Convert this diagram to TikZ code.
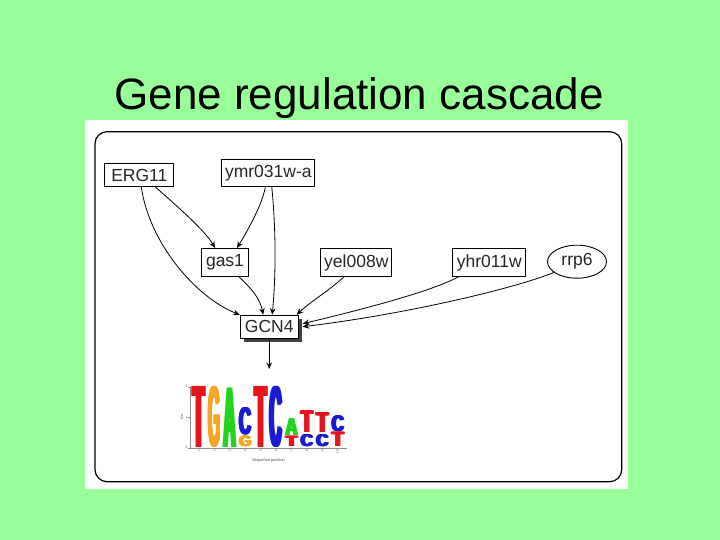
\documentclass[tikz,border=0pt]{standalone}
\usepackage{fontspec}
\setmainfont{Liberation Sans}
\usetikzlibrary{arrows.meta,shapes.geometric,shadows}
\definecolor{bggreen}{HTML}{99FF99}
\definecolor{lred}{HTML}{E8141C}
\definecolor{lorange}{HTML}{F5A623}
\definecolor{lgreen}{HTML}{22D41E}
\definecolor{lblue}{HTML}{1A1AD2}
% logo letter: x, ybottom, ytop, letter, colour, name  (fake-bold by stacking shifted copies)
\newcommand\lgl[6]{%
  \foreach \dd [count=\jj] in {0,0.5,1,1.5,2,2.5} {%
    \node[inner sep=0pt, anchor=south west, text=#5] (#6-\jj) at (#1+\dd,#2) {\resizebox*{12pt}{\dimexpr #2pt-#3pt\relax}{\bfseries #4}};%
  }%
}
\begin{document}
\begin{tikzpicture}[x=1pt,y=-1pt,
  gbox/.style={draw=black, line width=0.9pt, fill=white, inner sep=0pt, font=\fontsize{17.5}{20}\selectfont, text=black!85},
  edge/.style={line width=0.8pt, -{Stealth[length=6.5pt,width=5.5pt]}},
  tiny/.style={inner sep=0pt, font=\fontsize{3.2}{4}\selectfont, text=black!70},
]
\useasboundingbox (0,0) rectangle (720,540);
\fill[bggreen] (0,0) rectangle (720,540);
\node[font=\fontsize{44}{50}\selectfont, anchor=base, inner sep=0pt] (title) at (359,110) {Gene regulation cascade};
\fill[white] (85,120) rectangle (628,489);
\draw[line width=1.2pt, rounded corners=12pt] (95,131.7) rectangle (621.7,481.7);

% nodes
\node[gbox, minimum width=69pt, minimum height=23pt] (erg) at (139.3,175) {ERG11};
\node[gbox, minimum width=93pt, minimum height=27pt] (ymr) at (268.3,173.3) {ymr031w-a};
\draw[line width=1.6pt] (ymr.north west) -- (ymr.north east);
\node[gbox, minimum width=47pt, minimum height=28pt] (gas) at (225,262.5) {gas1};
\node[gbox, minimum width=71pt, minimum height=28pt] (yel) at (356.3,262.5) {yel008w};
\node[gbox, minimum width=73pt, minimum height=28pt] (yhr) at (489.3,262.5) {yhr011w};
\node[gbox, ellipse, minimum width=59pt, minimum height=33pt] (rrp) at (577,261.7) {rrp6};
\node[gbox, minimum width=58pt, minimum height=23pt, drop shadow={shadow xshift=4pt, shadow yshift=-4pt, fill=black!75, opacity=1}] (gcn) at (269.2,326.7) {GCN4};

% edges
\draw[edge] ([xshift=2pt]erg.south) .. controls (149,242) and (195,297) .. (gcn.north west);
\draw[edge] ([xshift=16pt]erg.south) .. controls (170,200) and (205,230) .. ([xshift=-10pt]gas.north);
\draw[edge] ([xshift=-3pt]ymr.south) .. controls (262,205) and (248,230) .. ([xshift=12pt]gas.north);
\draw[edge] ([xshift=3.5pt]ymr.south) .. controls (276,230) and (276,275) .. ([xshift=3pt]gcn.north);
\draw[edge] ([xshift=14pt]gas.south) .. controls (250,287) and (260,298) .. ([xshift=-6pt]gcn.north);
\draw[edge] ([xshift=-12.5pt]yel.south) .. controls (330,290) and (310,302) .. ([xshift=-2pt]gcn.north east);
\draw[edge] ([xshift=-31pt]yhr.south) .. controls (430,292) and (360,310) .. ([xshift=4pt,yshift=3pt]gcn.east);
\draw[edge] (rrp.205) .. controls (510,290) and (400,315) .. ([xshift=4pt]gcn.east);

\coordinate (motif) at (269.2,369);
\draw[edge] (gcn.south) -- (motif);

% sequence logo axes
\draw[black!45, line width=0.4pt] (190,386.7) -- (190,447.7) -- (347,447.7);
\foreach \yy/\lab [count=\k] in {447.7/0, 417.2/1, 386.7/2} {
  \draw[black!45, line width=0.4pt] (188,\yy) -- (190,\yy);
  \node[tiny, anchor=east] (yl\k) at (187.5,\yy) {\lab};
}
\node[tiny, rotate=90] (bits) at (182,417) {Bits};
\foreach \i in {1,...,10} {
  \draw[black!45, line width=0.4pt] ({191.7+15.4*(\i-1)+7.3},447.7) -- ++(0,1.2);
  \node[tiny, rotate=90, anchor=east] (xl\i) at ({191.7+15.4*(\i-1)+7.3},450) {\i};
}
\node[tiny, font=\fontsize{4}{5}\selectfont] (seqpos) at (268.5,460) {Sequence position};

% sequence logo letters
\lgl{191.7}{447.7}{386.7}{T}{lred}{l1}
\lgl{207.1}{447.7}{386.7}{G}{lorange}{l2}
\lgl{222.5}{447.7}{388.5}{A}{lgreen}{l3}
\lgl{237.9}{435.3}{408}{C}{lblue}{l4a}
\lgl{237.9}{447}{436.3}{G}{lorange}{l4b}
\lgl{253.3}{447.7}{386.7}{T}{lred}{l5}
\lgl{268.7}{447.7}{386.7}{C}{lblue}{l6}
\lgl{284.1}{435.8}{419}{A}{lgreen}{l7a}
\lgl{284.1}{447}{436.8}{T}{lred}{l7b}
\lgl{299.5}{433}{411.5}{T}{lred}{l8a}
\lgl{299.5}{446.7}{434.5}{C}{lblue}{l8b}
\lgl{314.9}{433}{413}{T}{lred}{l9a}
\lgl{314.9}{446.7}{434.5}{C}{lblue}{l9b}
\lgl{330.3}{431.5}{415.5}{C}{lblue}{l10a}
\lgl{330.3}{446.7}{432.5}{T}{lred}{l10b}
\end{tikzpicture}
\end{document}
